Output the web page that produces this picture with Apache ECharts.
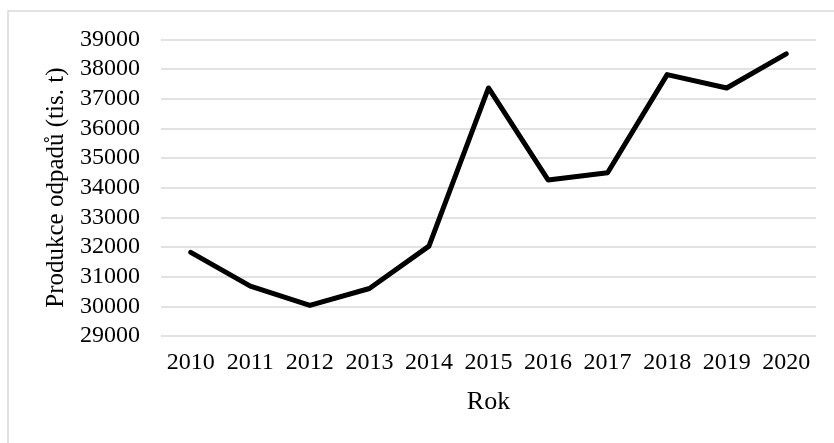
<!DOCTYPE html>
<html>
<head>
<meta charset="utf-8">
<script src="https://cdn.jsdelivr.net/npm/echarts@6/dist/echarts.min.js"></script>
<style>
  html, body { margin: 0; padding: 0; background: #fff; }
  #chart { width: 834px; height: 443px; }
</style>
</head>
<body>
<div id="chart"></div>
<script>
// roky a produkce odpadů (tis. t)
const years = ['2010', '2011', '2012', '2013', '2014', '2015', '2016', '2017', '2018', '2019', '2020'];
const production = [31820, 30680, 30030, 30600, 32030, 37360, 34260, 34500, 37810, 37360, 38510];

const font = "'Liberation Serif', 'Times New Roman', serif";

const chart = echarts.init(document.getElementById('chart'));
chart.setOption({
  animation: false,
  backgroundColor: '#fff',
  graphic: [{
    type: 'rect',
    shape: { x: 8, y: 11, width: 840, height: 450 },
    style: { fill: 'none', stroke: '#d9d9d9', lineWidth: 1.5 },
    silent: true
  }],
  grid: { left: 161, right: 18, top: 39.3, bottom: 107 },
  xAxis: {
    type: 'category',
    data: years,
    boundaryGap: true,
    name: 'Rok',
    nameLocation: 'middle',
    nameGap: 53,
    nameTextStyle: { fontFamily: font, fontSize: 26, color: '#000' },
    axisLine: { show: false },
    axisTick: { show: false },
    axisLabel: { fontFamily: font, fontSize: 24, color: '#000', margin: 15, interval: 0 }
  },
  yAxis: {
    type: 'value',
    min: 29000,
    max: 39000,
    interval: 1000,
    name: 'Produkce odpadů (tis. t)',
    nameLocation: 'middle',
    nameGap: 84,
    nameTextStyle: { fontFamily: font, fontSize: 25, color: '#000' },
    axisLine: { show: false },
    axisTick: { show: false },
    axisLabel: { fontFamily: font, fontSize: 24, color: '#000', margin: 21, formatter: v => String(v) },
    splitLine: { lineStyle: { color: '#d9d9d9', width: 1.5 } }
  },
  series: [{
    type: 'line',
    data: production,
    showSymbol: false,
    symbol: 'none',
    lineStyle: { color: '#000', width: 5, cap: 'round', join: 'round' }
  }]
});
</script>
</body>
</html>
